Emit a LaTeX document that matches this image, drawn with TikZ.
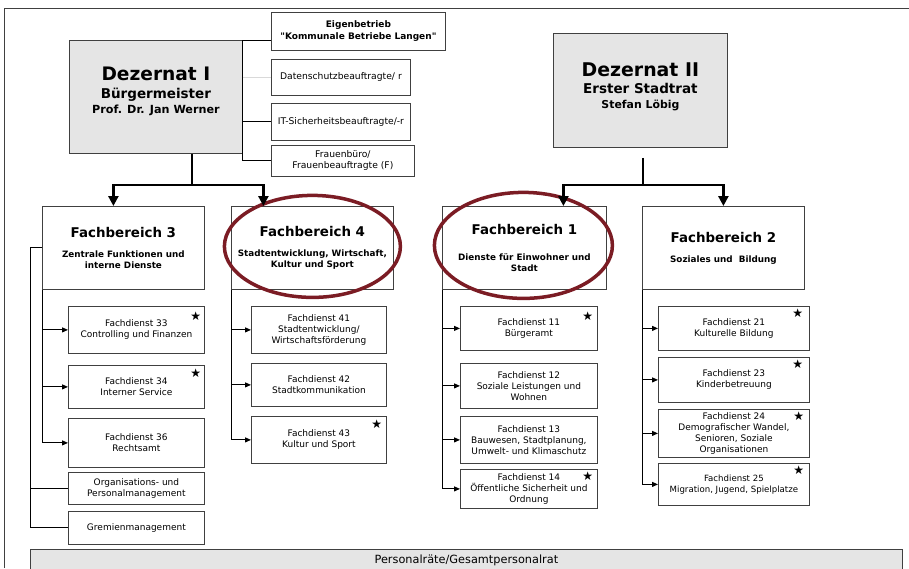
\documentclass[tikz,border=0pt]{standalone}
\usepackage{fontspec}
\setmainfont{DejaVu Sans}
\usetikzlibrary{positioning, arrows.meta}
\definecolor{ringred}{RGB}{123,28,36}
\NewDocumentCommand{\fsz}{mm}{\fontsize{#1}{#2}\selectfont}

\begin{document}
\begin{tikzpicture}[x=1pt, y=-1pt, thick,
    box/.style = {draw=black!75, line width=0.8pt, anchor=north west, inner sep=1pt, align=center},
    dez/.style = {box, fill=black!10, font=\bfseries\fsz{11.2}{15}},
    fb/.style = {box, minimum width=162, minimum height=83, font=\bfseries\fsz{8.8}{11}},
    fd/.style = {box, font=\fsz{9}{11}},
    staff/.style = {box, font=\fsz{9.2}{12}},
    starmark/.style = {inner sep=0pt, font=\fsz{12}{12}},
    dezline/.style = {line width=2.4pt},
    dezarrow/.style = {dezline, -{Triangle[length=10pt, width=10pt]}},
    fdline/.style = {line width=1pt},
    fdarrow/.style = {fdline, -{Triangle[length=6pt, width=5pt]}},
    ring/.style = {draw=ringred, line width=3.5pt}]
    \useasboundingbox (0,0) rectangle (909,568);
    \draw[black!75, line width=1pt] (4,568) -- (4,8) -- (909,8);

    \node[dez, minimum width=173, minimum height=113] (dez1) at (69,40) {{\fsz{18.6}{20}Dezernat I}\\[3pt] {\fsz{13.5}{15}Bürgermeister}\\ Prof. Dr. Jan Werner\\[-2pt] \null};
    \node[staff, font=\bfseries\fsz{9}{12}, minimum width=174, minimum height=38] (eig) at (271,12) {Eigenbetrieb\\ \textquotedbl Kommunale Betriebe Langen\textquotedbl};
    \node[staff, minimum width=139, minimum height=36] (ds) at (271,59) {Datenschutzbeauftragte/ r};
    \node[staff, minimum width=139, minimum height=37] (itb) at (271,103) {IT-Sicherheitsbeauftragte/-r};
    \node[staff, font=\fsz{9.2}{11}, minimum width=143, minimum height=31] (frauen) at (271,145) {Frauenbüro/\\ Frauenbeauftragte (F)};

    \draw[fdline] (dez1.north east) -- (dez1.north east -| eig.west);
    \draw[fdline] (dez1.north east) |- (frauen.west);
    \draw[fdline] (dez1.east |- itb.west) -- (itb.west);
    \draw[black!15, line width=0.6pt] (dez1.east |- ds.west) -- (ds.west);

    \node[dez, minimum width=174, minimum height=114, font=\bfseries\fsz{10.9}{15}] (dez2) at (553,33) {{\fsz{18.9}{20}Dezernat II}\\[2pt] {\fsz{13.5}{15}Erster Stadtrat}\\ Stefan Löbig\\[-6pt] \null};

    \node[fb] (fb3) at (42,206) {{\fsz{13.4}{15}Fachbereich 3}\\[9pt] Zentrale Funktionen und\\ interne Dienste};
    \node[fb] (fb4) at (231,206) {{\fsz{13.4}{15}Fachbereich 4}\\[9pt] Stadtentwicklung, Wirtschaft,\\ Kultur und Sport};
    \node[fb, minimum width=164] (fb1) at (442,206) {{\fsz{13.4}{15}Fachbereich 1}\\[15pt] Dienste für Einwohner und\\ Stadt};
    \node[fb] (fb2) at (642,206) {{\fsz{13.4}{15}Fachbereich 2}\\[9pt] Soziales und\ \ Bildung};

    \node[fd, minimum width=136, minimum height=47] (fd33) at (68,306) {Fachdienst 33\\ Controlling und Finanzen};
    \node[fd, minimum width=136, minimum height=43] (fd34) at (68,365) {Fachdienst 34\\ Interner Service};
    \node[fd, minimum width=136, minimum height=49] (fd36) at (68,418) {Fachdienst 36\\ Rechtsamt};
    \node[fd, minimum width=136, minimum height=32] (org) at (68,472) {Organisations- und\\ Personalmanagement};
    \node[fd, minimum width=136, minimum height=33] (grem) at (68,511) {Gremienmanagement};

    \node[fd, minimum width=135, minimum height=47] (fd41) at (251,306) {Fachdienst 41\\ Stadtentwicklung/\\ Wirtschaftsförderung};
    \node[fd, minimum width=135, minimum height=43] (fd42) at (251,363) {Fachdienst 42\\ Stadtkommunikation};
    \node[fd, minimum width=135, minimum height=47] (fd43) at (251,416) {Fachdienst 43\\ Kultur und Sport};

    \node[fd, minimum width=137, minimum height=44] (fd11) at (460,306) {Fachdienst 11\\ Bürgeramt};
    \node[fd, minimum width=137, minimum height=45] (fd12) at (460,363) {Fachdienst 12\\ Soziale Leistungen und\\ Wohnen};
    \node[fd, minimum width=137, minimum height=47] (fd13) at (460,416) {Fachdienst 13\\ Bauwesen, Stadtplanung,\\ Umwelt- und Klimaschutz};
    \node[fd, minimum width=137, minimum height=39] (fd14) at (460,469) {Fachdienst 14\\ Öffentliche Sicherheit und\\ Ordnung};

    \node[fd, minimum width=151, minimum height=44] (fd21) at (658,306) {Fachdienst 21\\ Kulturelle Bildung};
    \node[fd, minimum width=151, minimum height=45] (fd23) at (658,357) {Fachdienst 23\\ Kinderbetreuung};
    \node[fd, minimum width=151, minimum height=48] (fd24) at (658,409) {Fachdienst 24\\ Demografischer Wandel,\\ Senioren, Soziale\\ Organisationen};
    \node[fd, minimum width=151, minimum height=42, font=\fsz{8.6}{11}] (fd25) at (658,463) {Fachdienst 25\\ Migration, Jugend, Spielplatze};

    \node[starmark] (s33) at ([xshift=-9pt, yshift=-10pt]fd33.north east) {★};
    \node[starmark] (s34) at ([xshift=-9pt, yshift=-8pt]fd34.north east) {★};
    \node[starmark] (s43) at ([xshift=-10pt, yshift=-8pt]fd43.north east) {★};
    \node[starmark] (s11) at ([xshift=-10pt, yshift=-10pt]fd11.north east) {★};
    \node[starmark] (s14) at ([xshift=-10pt, yshift=-7pt]fd14.north east) {★};
    \node[starmark] (s21) at ([xshift=-12pt, yshift=-7pt]fd21.north east) {★};
    \node[starmark] (s23) at ([xshift=-12pt, yshift=-7pt]fd23.north east) {★};
    \node[starmark] (s24) at ([xshift=-11pt, yshift=-7pt]fd24.north east) {★};
    \node[starmark] (s25) at ([xshift=-11pt, yshift=-7pt]fd25.north east) {★};

    \node[box, fill=black!10, minimum width=872, minimum height=22, font=\fsz{11.3}{12}] (pr) at (30,549) {Personalräte/Gesamtpersonalrat};

    \draw[fdarrow] (fb3.south west) |- (fd33.west);
    \draw[fdarrow] (fb3.south west) |- (fd34.west);
    \draw[fdarrow] (fb3.south west) |- (fd36.west);
    \coordinate (k3) at (fb3.west -| pr.west);
    \draw[fdline] (fb3.west) -- (k3) |- (grem.west);
    \draw[fdline] (k3) |- (org.west);

    \draw[fdarrow] (fb4.south west) |- (fd41.west);
    \draw[fdarrow] (fb4.south west) |- (fd42.west);
    \draw[fdarrow] (fb4.south west) |- (fd43.west);

    \draw[fdarrow] (fb1.south west) |- (fd11.west);
    \draw[fdarrow] (fb1.south west) |- (fd12.west);
    \draw[fdarrow] (fb1.south west) |- (fd13.west);
    \draw[fdarrow] (fb1.south west) |- (fd14.west);

    \draw[fdarrow] (fb2.south west) |- (fd21.west);
    \draw[fdarrow] (fb2.south west) |- (fd23.west);
    \draw[fdarrow] (fb2.south west) |- (fd24.west);
    \draw[fdarrow] (fb2.south west) |- (fd25.west);

    \draw[ring] (fb4.center) ++(0,-1.5) ellipse [x radius=88pt, y radius=51pt];
    \draw[ring] (fb1.center) ++(-1,-2.5) ellipse [x radius=89pt, y radius=53pt];

    \coordinate (j1) at (192,185);
    \draw[dezline] (dez1.south -| j1) -- (j1);
    \draw[dezarrow] (j1) -| ([xshift=-10pt]fb3.north);
    \draw[dezarrow] (j1) -| ([xshift=-49pt]fb4.north);

    \coordinate (j2) at (643,185);
    \draw[dezline, shorten <=10pt] (dez2.south -| j2) -- (j2);
    \draw[dezarrow] (j2) -| ([xshift=39pt]fb1.north);
    \draw[dezarrow] (j2) -| (fb2.north);
\end{tikzpicture}
\end{document}
